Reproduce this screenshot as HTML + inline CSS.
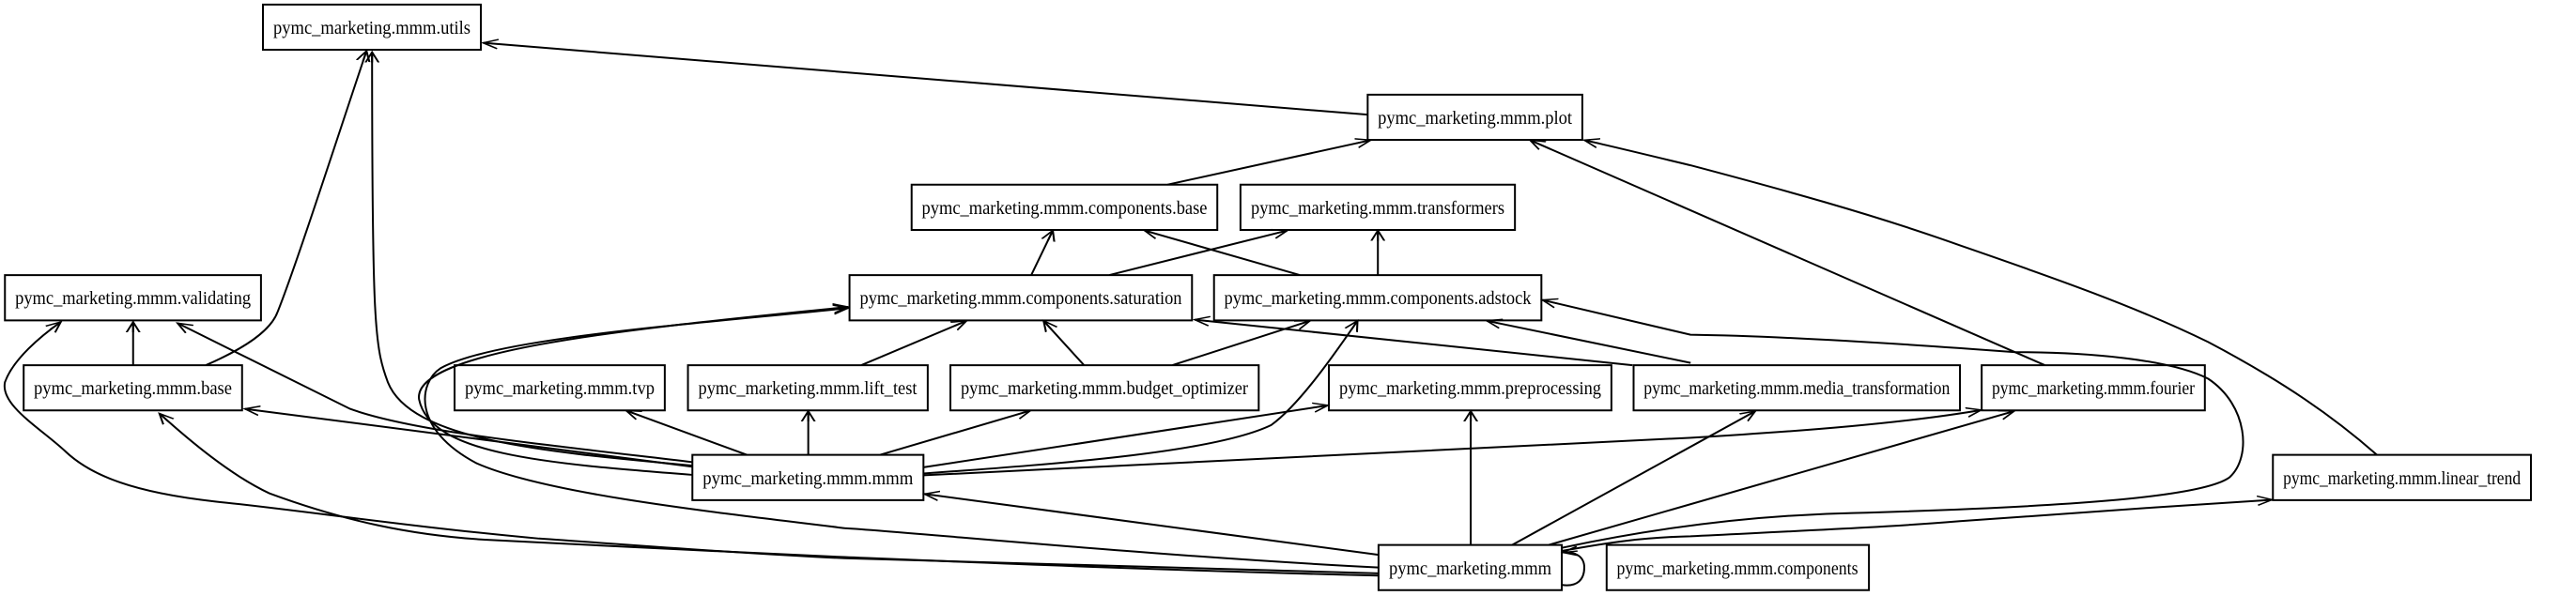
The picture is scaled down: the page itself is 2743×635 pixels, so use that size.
<!DOCTYPE html>
<html><head><meta charset="utf-8"><style>
html,body{margin:0;padding:0;background:#fff;}
svg{display:block;}
text{font-family:"Liberation Serif",serif;font-size:20px;fill:#000;text-anchor:middle;}
.e path,.n rect{vector-effect:non-scaling-stroke;}
</style></head><body>
<svg width="2743" height="635" viewBox="0 0 2743 635" xmlns="http://www.w3.org/2000/svg">
<defs>
<marker id="a" markerUnits="userSpaceOnUse" markerWidth="12" markerHeight="12" refX="9" refY="4" orient="auto" viewBox="0 0 12 8">
<path d="M0,0 L9,4 L0,8 M0,4 L9,4" fill="none" stroke="#000" stroke-width="1.2"/>
</marker>
</defs>
<g transform="scale(1.75,1.234)">
<g class="n" fill="#fff" stroke="#000" stroke-width="2">
<rect x="160" y="3.9" width="132.6" height="39.1"/>
<rect x="3" y="237.5" width="155.8" height="39.1"/>
<rect x="14.4" y="315.3" width="132.9" height="39"/>
<rect x="276.6" y="315.3" width="127.9" height="39"/>
<rect x="418.6" y="315.3" width="145.9" height="39"/>
<rect x="421.3" y="392.7" width="140.6" height="39.1"/>
<rect x="832.2" y="81.7" width="130.6" height="39"/>
<rect x="554.7" y="159.4" width="186" height="39.1"/>
<rect x="754.8" y="159.4" width="167" height="39.1"/>
<rect x="516.9" y="237.5" width="208.4" height="39.1"/>
<rect x="738.7" y="237.5" width="199.2" height="39.1"/>
<rect x="578.3" y="315.3" width="187.6" height="39"/>
<rect x="808.6" y="315.3" width="171.9" height="39"/>
<rect x="994" y="315.3" width="198.6" height="39"/>
<rect x="838.8" y="470.5" width="111.5" height="39"/>
<rect x="977.6" y="470.5" width="159.6" height="39"/>
<rect x="1205.8" y="315.3" width="135.8" height="39"/>
<rect x="1383" y="392.7" width="157" height="39.1"/>
</g>
<g class="e" fill="none" stroke="#000" stroke-width="2" marker-end="url(#a)">
<path d="M832,99 L294,37"/>
<path d="M125.3,315.3 C150,300 165,285 169,269 C180,230 205,120 223,44"/>
<path d="M421.3,402 C330,390 250,380 236,330 C228,300 226.4,280 226.4,45"/>
<path d="M81,315.3 L81,278"/>
<path d="M421.3,399 C320,382 250,372 213,353 L108,279"/>
<path d="M421.3,403 L149,353"/>
<path d="M838.8,495 C700,490 600,485 514,482 C450,478 380,470 328,465 C250,455 180,440 131,433 C80,425 55,410 40,390 C25,370 0,350 3,330 C8,310 25,290 37,278"/>
<path d="M838.8,497 C700,492 600,486 514,481 C450,477 350,470 295,466 C250,462 210,450 164,426 C140,410 115,380 97,357"/>
<path d="M454.4,392.7 L381,354.5"/>
<path d="M491.8,392.7 L491.8,355"/>
<path d="M535.6,392.7 L627,354.5"/>
<path d="M561.9,403.5 L808,350"/>
<path d="M561.9,408.8 C650,400 740,390 773.5,367 C790,350 810,310 826,277"/>
<path d="M561.9,410.4 L1028,378 C1100,372 1160,365 1205.5,354"/>
<path d="M421.3,410 C330,400 262,392 255,345 C250,300 400,282 516,265"/>
<path d="M838.8,490 C700,480 560,460 514,456 C420,440 330,425 290,400 C250,370 255,330 268,318 C300,292 420,280 516,266"/>
<path d="M838.8,479 L562.5,426.5"/>
<path d="M894.9,470.5 L894.9,355"/>
<path d="M920.1,470.5 L1068,355"/>
<path d="M942.4,470.5 L1225.5,355"/>
<path d="M950.3,473 C1000,458 1060,445 1127,443 C1250,438 1340,430 1356.7,412 C1370,395 1368,350 1343.6,327 C1320,310 1270,304 1225.5,304 C1150,296 1080,290 1028.6,289 L938.5,259"/>
<path d="M950.3,475.7 C980,468 1000,464 1028.6,463 C1100,458 1150,455 1192.6,450 C1250,444 1320,437 1382.5,431.5"/>
<path d="M950.3,505 C960,507 964,500 964,490 C964,480 958,476 951,477"/>
<path d="M710.5,159.4 L834,121"/>
<path d="M627.5,237.5 L640.6,199"/>
<path d="M675,237.5 L783.3,199"/>
<path d="M790.9,237.5 L696.4,199"/>
<path d="M838.4,237.5 L838.4,199"/>
<path d="M524.1,315.3 L588.1,277"/>
<path d="M659.6,315.3 L635,277"/>
<path d="M713.4,315.3 L797.1,277"/>
<path d="M993.3,315.3 L727,276"/>
<path d="M1028.7,313.3 L904.7,277"/>
<path d="M1244.2,315.3 L931,121"/>
<path d="M1446.3,392.7 C1420,360 1390,330 1343.6,295.3 C1300,265 1250,240 1192.6,211.9 C1140,185 1080,162 1028.6,142.7 C1000,133 980,126 964,121"/>
</g>
</g>
<g lengthAdjust="spacingAndGlyphs">
<text x="396" y="36" textLength="210" lengthAdjust="spacingAndGlyphs">pymc_marketing.mmm.utils</text>
<text x="141.6" y="324" textLength="251" lengthAdjust="spacingAndGlyphs">pymc_marketing.mmm.validating</text>
<text x="141.5" y="420" textLength="211" lengthAdjust="spacingAndGlyphs">pymc_marketing.mmm.base</text>
<text x="596" y="420" textLength="202" lengthAdjust="spacingAndGlyphs">pymc_marketing.mmm.tvp</text>
<text x="860" y="420" textLength="233" lengthAdjust="spacingAndGlyphs">pymc_marketing.mmm.lift_test</text>
<text x="860.3" y="516" textLength="224" lengthAdjust="spacingAndGlyphs">pymc_marketing.mmm.mmm</text>
<text x="1570.6" y="132" textLength="207" lengthAdjust="spacingAndGlyphs">pymc_marketing.mmm.plot</text>
<text x="1133.5" y="228" textLength="304" lengthAdjust="spacingAndGlyphs">pymc_marketing.mmm.components.base</text>
<text x="1467" y="228" textLength="270" lengthAdjust="spacingAndGlyphs">pymc_marketing.mmm.transformers</text>
<text x="1087" y="324" textLength="343" lengthAdjust="spacingAndGlyphs">pymc_marketing.mmm.components.saturation</text>
<text x="1467" y="324" textLength="327" lengthAdjust="spacingAndGlyphs">pymc_marketing.mmm.components.adstock</text>
<text x="1176" y="420" textLength="306" lengthAdjust="spacingAndGlyphs">pymc_marketing.mmm.budget_optimizer</text>
<text x="1565.5" y="420" textLength="279" lengthAdjust="spacingAndGlyphs">pymc_marketing.mmm.preprocessing</text>
<text x="1913.3" y="420" textLength="326" lengthAdjust="spacingAndGlyphs">pymc_marketing.mmm.media_transformation</text>
<text x="1565.5" y="612" textLength="173" lengthAdjust="spacingAndGlyphs">pymc_marketing.mmm</text>
<text x="1850" y="612" textLength="257" lengthAdjust="spacingAndGlyphs">pymc_marketing.mmm.components</text>
<text x="2229" y="420" textLength="216" lengthAdjust="spacingAndGlyphs">pymc_marketing.mmm.fourier</text>
<text x="2557.6" y="516" textLength="253" lengthAdjust="spacingAndGlyphs">pymc_marketing.mmm.linear_trend</text>
</g>
</svg>
</body></html>
